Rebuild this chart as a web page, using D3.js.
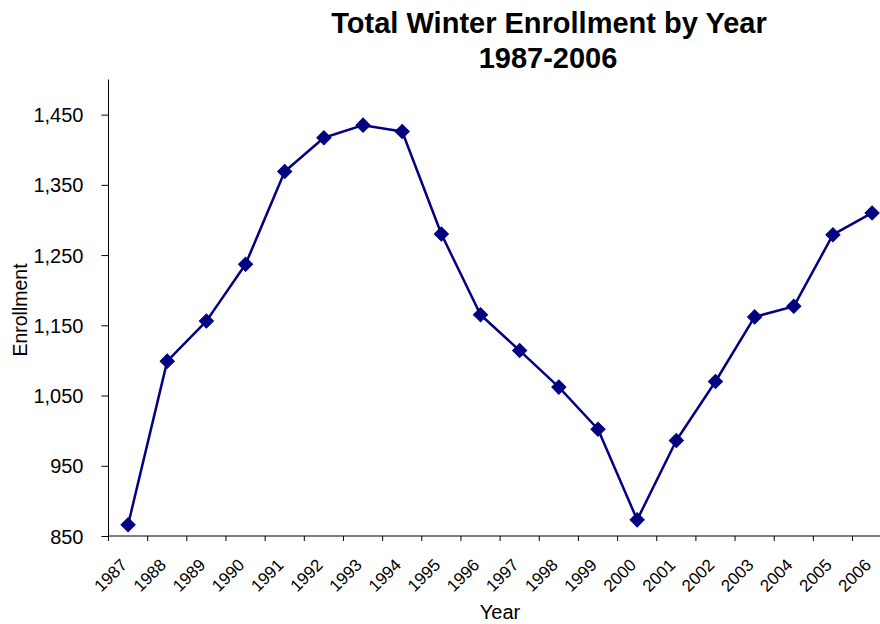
<!DOCTYPE html>
<html>
<head>
<meta charset="utf-8">
<script src="https://cdn.jsdelivr.net/npm/d3@7"></script>
<style>
  html, body { margin: 0; padding: 0; background: #fff; }
  svg { display: block; }
  text { font-family: "Liberation Sans", Arial, sans-serif; fill: #000; }
</style>
</head>
<body>
<svg id="chart" width="880" height="624"></svg>
<script>
const years = ["1987","1988","1989","1990","1991","1992","1993","1994","1995","1996",
               "1997","1998","1999","2000","2001","2002","2003","2004","2005","2006"];
const enrollment = [866, 1099, 1156, 1237, 1369, 1417, 1435, 1426, 1280, 1165,
                    1114, 1062, 1002, 873, 986, 1070, 1162, 1177, 1279, 1310];
const yTicks = [850, 950, 1050, 1150, 1250, 1350, 1450];
const titleLines = ["Total Winter Enrollment by Year", "1987-2006"];

const svg = d3.select("#chart");
const mLeft = 108.5, mRight = 891.7, mTop = 79.5, mBottom = 536;

const x = d3.scaleBand().domain(years).range([mLeft, mRight]).padding(0);
const y = d3.scaleLinear().domain([850, 1500]).range([mBottom, mTop]);

// Title
svg.append("text").attr("x", 549).attr("y", 33).attr("text-anchor", "middle")
  .style("font-weight", "bold").style("font-size", "29px").text(titleLines[0]);
svg.append("text").attr("x", 548).attr("y", 68).attr("text-anchor", "middle")
  .style("font-weight", "bold").style("font-size", "29px").text(titleLines[1]);

// Y axis
const yAxis = d3.axisLeft(y).tickValues(yTicks).tickSize(7).tickPadding(18)
  .tickFormat(d3.format(","));
const yg = svg.append("g").attr("transform", `translate(${mLeft},0)`).call(yAxis);
yg.select(".domain").attr("stroke", "#000").attr("d", `M0,${mTop}V${mBottom}`);
yg.selectAll(".tick line").attr("stroke", "#000");
yg.selectAll(".tick text").style("font-size", "20px")
  .attr("font-family", "Liberation Sans, Arial, sans-serif").attr("dy", "0.35em");

// X axis with ticks between categories
const xg = svg.append("g").attr("transform", `translate(0,${mBottom})`);
xg.append("line").attr("x1", mLeft).attr("x2", mRight).attr("y1", 0).attr("y2", 0)
  .attr("stroke", "#000");
const bounds = years.map(d => x(d)).concat([mRight]);
xg.selectAll("line.tk").data(bounds).join("line").attr("class", "tk")
  .attr("x1", d => d).attr("x2", d => d).attr("y1", 0).attr("y2", 5).attr("stroke", "#000");
xg.selectAll("text.lbl").data(years).join("text").attr("class", "lbl")
  .attr("transform", d => `translate(${x(d) + x.bandwidth() / 2},${30}) rotate(-45)`)
  .attr("text-anchor", "end").style("font-size", "17px").text(d => d);

// Axis titles
svg.append("text").attr("x", 500).attr("y", 619).attr("text-anchor", "middle")
  .style("font-size", "20px").text("Year");
svg.append("text").attr("transform", "translate(27,310) rotate(-90)")
  .attr("text-anchor", "middle").style("font-size", "19.5px").text("Enrollment");

// Line
const cx = d => x(d) + x.bandwidth() / 2;
const line = d3.line().x((d, i) => cx(years[i])).y(d => y(d));
svg.append("path").datum(enrollment).attr("d", line)
  .attr("fill", "none").attr("stroke", "#000080").attr("stroke-width", 2.5)
  .attr("stroke-linejoin", "round");

// Markers
const sym = d3.symbol().type(d3.symbolSquare).size(100);
svg.selectAll("path.mk").data(enrollment).join("path").attr("class", "mk")
  .attr("d", sym)
  .attr("transform", (d, i) => `translate(${cx(years[i])},${y(d)}) rotate(45)`)
  .attr("fill", "#000080").attr("stroke", "#000080").attr("stroke-width", 1);
</script>
</body>
</html>
